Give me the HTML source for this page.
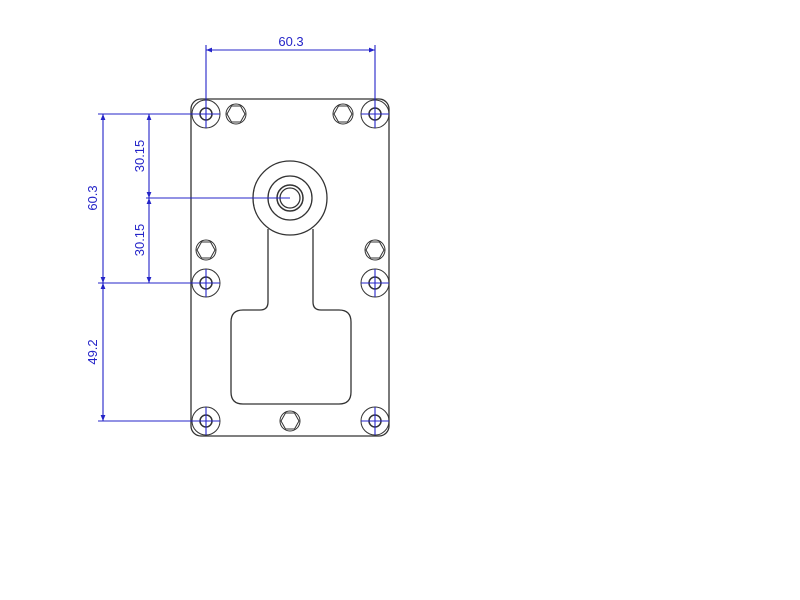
<!DOCTYPE html>
<html><head><style>body{margin:0;background:#fff}svg{display:block}</style></head><body>
<svg width="800" height="600" viewBox="0 0 800 600" xmlns="http://www.w3.org/2000/svg">
<defs>
<marker id="a" viewBox="0 0 10 10" refX="10" refY="5" markerWidth="10" markerHeight="6" markerUnits="userSpaceOnUse" orient="auto-start-reverse"><path d="M0,1 L10,5 L0,9 z" fill="#2424c8"/></marker>
<g id="hex"><circle r="10" fill="none" stroke="#333" stroke-width="1"/><polygon points="-4.5,-8 4.5,-8 9,0 4.5,8 -4.5,8 -9,0" fill="none" stroke="#333" stroke-width="1"/></g>
<g id="hole"><circle r="14" fill="none" stroke="#333"/><circle r="6" fill="none" stroke="#333" stroke-width="1.5"/></g>
</defs>
<g fill="none" stroke="#333" stroke-width="1.3">
<rect x="191" y="99" width="198" height="337" rx="10"/>
<circle cx="290" cy="198" r="37"/><circle cx="290" cy="198" r="22"/><circle cx="290" cy="198" r="13" stroke-width="1.5"/><circle cx="290" cy="198" r="10"/>
<path d="M268,229 V302 Q268,310 260,310 H243 Q231,310 231,322 V392 Q231,404 243,404 H339 Q351,404 351,392 V322 Q351,310 339,310 H321 Q313,310 313,302 V229"/>
</g>
<use href="#hole" x="206" y="114"/><use href="#hole" x="375" y="114"/>
<use href="#hole" x="206" y="283"/><use href="#hole" x="375" y="283"/>
<use href="#hole" x="206" y="421"/><use href="#hole" x="375" y="421"/>
<use href="#hex" x="236" y="114"/><use href="#hex" x="343" y="114"/>
<use href="#hex" x="206" y="250"/><use href="#hex" x="375" y="250"/>
<use href="#hex" x="290" y="421"/>
<g stroke="#2424c8" stroke-width="1.1" fill="none">
<path d="M206,45 V128 M375,45 V128 M192,114 H220 M361,114 H389 M192,283 H220 M361,283 H389 M192,421 H220 M361,421 H389 M206,269 V297 M375,269 V297 M206,407 V435 M375,407 V435"/>
<path d="M98,114 H206 M98,283 H206 M98,421 H206 M146,198 H290"/>
<line x1="206" y1="50" x2="375" y2="50" marker-start="url(#a)" marker-end="url(#a)"/>
<line x1="103" y1="114" x2="103" y2="283" marker-start="url(#a)" marker-end="url(#a)"/>
<line x1="103" y1="283" x2="103" y2="421" marker-start="url(#a)" marker-end="url(#a)"/>
<line x1="149" y1="114" x2="149" y2="198" marker-start="url(#a)" marker-end="url(#a)"/>
<line x1="149" y1="198" x2="149" y2="283" marker-start="url(#a)" marker-end="url(#a)"/>
</g>
<g fill="#2424c8" font-family="Liberation Sans, sans-serif" font-size="13" text-anchor="middle">
<text x="291" y="46">60.3</text>
<text transform="translate(97,198) rotate(-90)">60.3</text>
<text transform="translate(97,352) rotate(-90)">49.2</text>
<text transform="translate(144,156) rotate(-90)">30.15</text>
<text transform="translate(144,240) rotate(-90)">30.15</text>
</g>
</svg>
</body></html>
